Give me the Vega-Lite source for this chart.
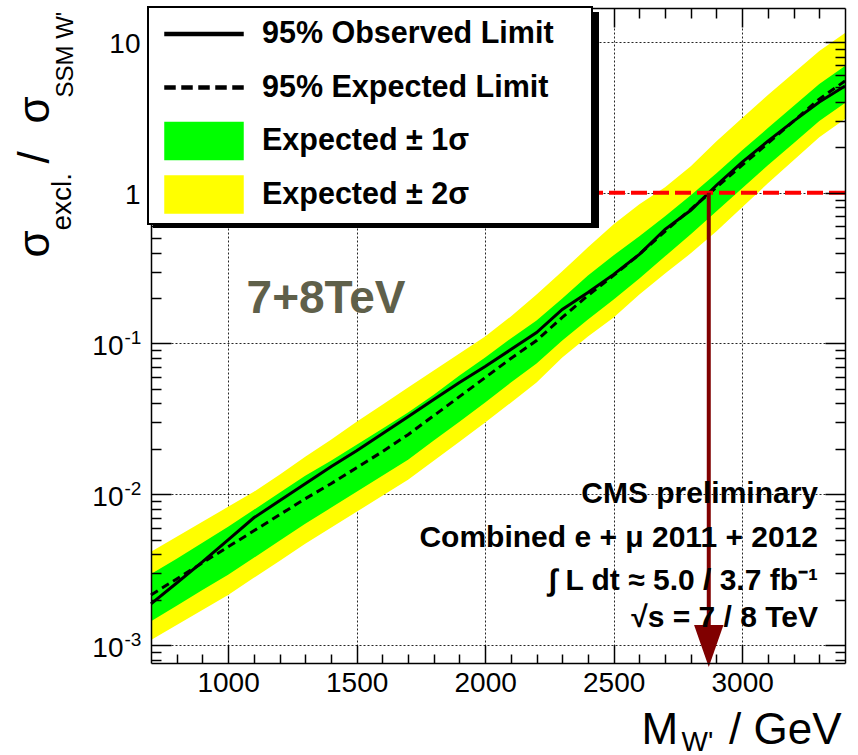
{
  "$schema": "https://vega.github.io/schema/vega-lite/v6.json",
  "width": 694,
  "height": 655,
  "autosize": {"type": "none"},
  "padding": {"left": 151, "top": 8, "right": 13, "bottom": 92},
  "background": "#ffffff",
  "config": {
    "view": {"stroke": null},
    "font": "Liberation Sans",
    "axis": {
      "labels": false, "ticks": false, "domain": false, "grid": false,
      "labelFont": "Liberation Sans", "labelFontSize": 28, "labelColor": "#000000",
      "labelFlush": false, "labelOverlap": false,
      "tickColor": "#000000", "tickWidth": 1.5,
      "domainColor": "#000000", "domainWidth": 1.5,
      "titleFont": "Liberation Sans", "titleFontWeight": "normal", "titleColor": "#000000",
      "gridColor": "#000000", "gridDash": [2, 2], "gridWidth": 1, "gridOpacity": 0.85
    }
  },
  "datasets": {
    "curves": [
      {"M": 700, "obs": 0.001873, "exp": 0.002148, "g_lo": 0.00144, "g_hi": 0.00296, "y_lo": 0.00108, "y_hi": 0.00415},
      {"M": 800, "obs": 0.00258, "exp": 0.002745, "g_lo": 0.00182, "g_hi": 0.00373, "y_lo": 0.00136, "y_hi": 0.00522},
      {"M": 900, "obs": 0.00356, "exp": 0.00351, "g_lo": 0.00232, "g_hi": 0.00476, "y_lo": 0.00171, "y_hi": 0.00657},
      {"M": 1000, "obs": 0.00499, "exp": 0.00448, "g_lo": 0.00292, "g_hi": 0.00608, "y_lo": 0.00215, "y_hi": 0.00826},
      {"M": 1100, "obs": 0.00698, "exp": 0.00572, "g_lo": 0.00379, "g_hi": 0.00789, "y_lo": 0.00279, "y_hi": 0.01039},
      {"M": 1200, "obs": 0.00905, "exp": 0.00731, "g_lo": 0.00491, "g_hi": 0.01023, "y_lo": 0.00361, "y_hi": 0.01348},
      {"M": 1300, "obs": 0.01174, "exp": 0.00934, "g_lo": 0.00637, "g_hi": 0.01327, "y_lo": 0.00469, "y_hi": 0.01775},
      {"M": 1400, "obs": 0.01523, "exp": 0.01174, "g_lo": 0.00813, "g_hi": 0.0167, "y_lo": 0.00599, "y_hi": 0.0230},
      {"M": 1500, "obs": 0.01945, "exp": 0.0150, "g_lo": 0.01039, "g_hi": 0.0213, "y_lo": 0.00765, "y_hi": 0.0303},
      {"M": 1600, "obs": 0.0252, "exp": 0.01916, "g_lo": 0.01327, "g_hi": 0.0272, "y_lo": 0.00977, "y_hi": 0.0393},
      {"M": 1700, "obs": 0.0327, "exp": 0.02485, "g_lo": 0.01695, "g_hi": 0.0348, "y_lo": 0.01248, "y_hi": 0.0510},
      {"M": 1800, "obs": 0.0425, "exp": 0.0332, "g_lo": 0.0227, "g_hi": 0.0458, "y_lo": 0.0167, "y_hi": 0.0662},
      {"M": 1900, "obs": 0.0551, "exp": 0.0444, "g_lo": 0.0303, "g_hi": 0.0613, "y_lo": 0.0223, "y_hi": 0.0858},
      {"M": 2000, "obs": 0.0703, "exp": 0.0594, "g_lo": 0.0406, "g_hi": 0.0807, "y_lo": 0.0299, "y_hi": 0.1113},
      {"M": 2100, "obs": 0.0912, "exp": 0.0795, "g_lo": 0.0551, "g_hi": 0.108, "y_lo": 0.0405, "y_hi": 0.1512},
      {"M": 2200, "obs": 0.1183, "exp": 0.1047, "g_lo": 0.0736, "g_hi": 0.1422, "y_lo": 0.0551, "y_hi": 0.2116},
      {"M": 2300, "obs": 0.1682, "exp": 0.1489, "g_lo": 0.1047, "g_hi": 0.1991, "y_lo": 0.0807, "y_hi": 0.301},
      {"M": 2400, "obs": 0.2182, "exp": 0.2084, "g_lo": 0.1444, "g_hi": 0.283, "y_lo": 0.1113, "y_hi": 0.4345},
      {"M": 2500, "obs": 0.2873, "exp": 0.283, "g_lo": 0.1959, "g_hi": 0.3843, "y_lo": 0.1489, "y_hi": 0.6175},
      {"M": 2600, "obs": 0.3902, "exp": 0.3902, "g_lo": 0.2703, "g_hi": 0.5141, "y_lo": 0.2116, "y_hi": 0.8387},
      {"M": 2700, "obs": 0.5722, "exp": 0.5549, "g_lo": 0.3785, "g_hi": 0.698, "y_lo": 0.2918, "y_hi": 1.088},
      {"M": 2800, "obs": 0.765, "exp": 0.7769, "g_lo": 0.530, "g_hi": 0.9625, "y_lo": 0.3963, "y_hi": 1.500},
      {"M": 2900, "obs": 1.121, "exp": 1.088, "g_lo": 0.7534, "g_hi": 1.348, "y_lo": 0.5548, "y_hi": 2.199},
      {"M": 3000, "obs": 1.595, "exp": 1.523, "g_lo": 1.071, "g_hi": 1.916, "y_lo": 0.8009, "y_hi": 3.126},
      {"M": 3100, "obs": 2.199, "exp": 2.132, "g_lo": 1.523, "g_hi": 2.683, "y_lo": 1.156, "y_hi": 4.445},
      {"M": 3200, "obs": 2.986, "exp": 2.986, "g_lo": 2.132, "g_hi": 3.757, "y_lo": 1.644, "y_hi": 6.224},
      {"M": 3300, "obs": 3.993, "exp": 4.181, "g_lo": 2.986, "g_hi": 5.26, "y_lo": 2.338, "y_hi": 8.716},
      {"M": 3400, "obs": 5.101, "exp": 5.507, "g_lo": 3.933, "g_hi": 6.928, "y_lo": 3.079, "y_hi": 11.48}
    ],
    "limits": [
      {"limit": 2870}
    ]
  },
  "resolve": {"axis": {"x": "independent", "y": "independent"}},
  "layer": [
    {
      "data": {"name": "curves"},
      "mark": {"type": "area"},
      "encoding": {
        "x": {
          "field": "M", "type": "quantitative",
          "scale": {"domain": [700, 3400], "nice": false, "zero": false},
          "axis": {"orient": "bottom", "grid": true, "values": [1000, 1500, 2000, 2500, 3000], "title": null, "zindex": 0}
        },
        "y": {
          "field": "y_lo", "type": "quantitative",
          "scale": {"type": "log", "domain": [0.00076, 16.8], "nice": false},
          "axis": {"orient": "left", "grid": true, "values": [0.001, 0.01, 0.1, 1, 10], "title": null, "zindex": 0}
        },
        "y2": {"field": "y_hi"},
        "color": {
          "datum": "Expected ± 2σ", "type": "nominal",
          "scale": {
            "domain": ["95% Observed Limit", "95% Expected Limit", "Expected ± 1σ", "Expected ± 2σ"],
            "range": ["#000000", "#000000", "#00ff00", "#ffff00"]
          },
          "legend": {
            "orient": "none", "legendX": -3, "legendY": -1, "direction": "vertical",
            "title": "MM", "titleOrient": "right", "titleAngle": 0, "titleOpacity": 0,
            "titleFontSize": 15, "titlePadding": 5.5,
            "fillColor": "#ffffff", "strokeColor": "#000000", "padding": 7.5, "rowPadding": 10.5,
            "symbolSize": 1369, "symbolOffset": 29, "labelOffset": 38.5,
            "labelFont": "Liberation Sans", "labelFontSize": 30.5, "labelFontWeight": "bold",
            "labelColor": "#000000", "labelLimit": 600,
            "zindex": 2,
            "encode": {
              "legend": {"update": {"strokeWidth": {"value": 2}}},
              "symbols": {
                "update": {
                  "shape": {"signal": "datum.value === '95% Observed Limit' ? 'M-2.108,-1M2.108,1M-2.108,-0.081H2.108V0.081H-2.108Z' : datum.value === '95% Expected Limit' ? 'M-2.108,-1M2.108,1M-2.108,-0.081H-1.568V0.081H-2.108ZM-1.189,-0.081H-0.649V0.081H-1.189ZM-0.27,-0.081H0.27V0.081H-0.27ZM0.649,-0.081H1.189V0.081H0.649ZM1.568,-0.081H2.108V0.081H1.568Z' : 'M-2.108,-1H2.108V1H-2.108Z'"},
                  "fill": {"signal": "datum.value === 'Expected ± 1σ' ? '#00ff00' : datum.value === 'Expected ± 2σ' ? '#ffff00' : '#000000'"},
                  "stroke": {"signal": "datum.value === 'Expected ± 1σ' || datum.value === 'Expected ± 2σ' ? '#000000' : 'transparent'"},
                  "strokeWidth": {"value": 1.5},
                  "strokeDash": {"value": []},
                  "size": {"value": 1369},
                  "opacity": {"value": 1},
                  "fillOpacity": {"value": 1},
                  "strokeOpacity": {"value": 1}
                }
              },
              "labels": {"update": {"fill": {"value": "#000000"}}}
            }
          }
        }
      }
    },
    {
      "data": {"name": "curves"},
      "mark": {"type": "area"},
      "encoding": {
        "x": {
          "field": "M", "type": "quantitative",
          "axis": {"orient": "bottom", "labels": true, "values": [1000, 1500, 2000, 2500, 3000], "format": "d", "labelPadding": 6, "title": null, "zindex": 1}
        },
        "y": {
          "field": "g_lo", "type": "quantitative",
          "axis": {
            "orient": "left", "labels": true, "values": [1, 10],
            "labelExpr": "datum.value > 5 ? '10' : '1'", "labelPadding": 11, "labelOffset": 3,
            "title": "/", "titleFontSize": 44, "titleAngle": -90, "titleAlign": "left", "titleBaseline": "alphabetic",
            "titleX": -103, "titleY": 155, "zindex": 1
          }
        },
        "y2": {"field": "g_hi"},
        "color": {"datum": "Expected ± 1σ", "type": "nominal"}
      }
    },
    {
      "data": {"name": "curves"},
      "mark": {"type": "line", "strokeWidth": 3, "strokeDash": [8, 5]},
      "encoding": {
        "x": {
          "field": "M", "type": "quantitative",
          "axis": {
            "orient": "bottom", "ticks": true, "domain": true, "tickSize": -18,
            "values": [1000, 1500, 2000, 2500, 3000],
            "title": "/ GeV", "titleFontSize": 44, "titleAlign": "right", "titleBaseline": "alphabetic",
            "titleX": 690, "titleY": 80, "zindex": 1
          }
        },
        "y": {
          "field": "exp", "type": "quantitative",
          "axis": {
            "orient": "left", "labels": true, "values": [0.001, 0.01, 0.1],
            "labelExpr": "'10'", "labelPadding": 28, "labelOffset": 3,
            "title": "σ", "titleFontSize": 44, "titleAngle": -90, "titleAlign": "left", "titleBaseline": "alphabetic",
            "titleX": -103, "titleY": 115, "zindex": 1
          }
        },
        "color": {"datum": "95% Expected Limit", "type": "nominal"}
      }
    },
    {
      "data": {"name": "curves"},
      "mark": {"type": "line", "strokeWidth": 3},
      "encoding": {
        "x": {
          "field": "M", "type": "quantitative",
          "axis": {
            "orient": "bottom", "ticks": true, "tickSize": -9,
            "values": [800, 900, 1100, 1200, 1300, 1400, 1600, 1700, 1800, 1900, 2100, 2200, 2300, 2400, 2600, 2700, 2800, 2900, 3100, 3200, 3300],
            "title": "M", "titleFontSize": 44, "titleAlign": "left", "titleBaseline": "alphabetic",
            "titleX": 490, "titleY": 80, "zindex": 1
          }
        },
        "y": {
          "field": "obs", "type": "quantitative",
          "axis": {
            "orient": "left", "labels": true, "values": [0.001, 0.01, 0.1],
            "labelExpr": "datum.value < 0.005 ? '-3' : datum.value < 0.05 ? '-2' : '-1'",
            "labelFontSize": 19, "labelAlign": "left", "labelPadding": 27, "labelOffset": -6,
            "title": "SSM W'", "titleFontSize": 24, "titleAngle": -90, "titleAlign": "left", "titleBaseline": "alphabetic",
            "titleX": -79, "titleY": 89, "zindex": 1
          }
        },
        "color": {"datum": "95% Observed Limit", "type": "nominal"}
      }
    },
    {
      "data": {"name": "limits"},
      "mark": {"type": "rule", "color": "#ff0000", "strokeWidth": 4, "strokeDash": [16, 6]},
      "encoding": {
        "y": {
          "datum": 1, "type": "quantitative",
          "axis": {
            "orient": "left", "ticks": true, "domain": true, "tickSize": -20,
            "values": [0.001, 0.01, 0.1, 1, 10],
            "title": "σ", "titleFontSize": 44, "titleAngle": -90, "titleAlign": "left", "titleBaseline": "alphabetic",
            "titleX": -103, "titleY": 249, "zindex": 1
          }
        }
      }
    },
    {
      "data": {"name": "limits"},
      "mark": {"type": "rule", "color": "#800000", "strokeWidth": 4},
      "encoding": {
        "x": {
          "field": "limit", "type": "quantitative",
          "axis": {
            "orient": "top", "ticks": true, "domain": true, "tickSize": -19,
            "values": [1000, 1500, 2000, 2500, 3000],
            "title": "W'", "titleFontSize": 28, "titleAlign": "left", "titleBaseline": "alphabetic",
            "titleX": 530, "titleY": 742, "zindex": 1
          }
        },
        "y": {
          "datum": 1, "type": "quantitative",
          "axis": {
            "orient": "left", "ticks": true, "tickSize": -10,
            "values": [0.0008, 0.0009, 0.002, 0.003, 0.004, 0.005, 0.006, 0.007, 0.008, 0.009, 0.02, 0.03, 0.04, 0.05, 0.06, 0.07, 0.08, 0.09, 0.2, 0.3, 0.4, 0.5, 0.6, 0.7, 0.8, 0.9, 2, 3, 4, 5, 6, 7, 8, 9],
            "title": "excl.", "titleFontSize": 28, "titleAngle": -90, "titleAlign": "left", "titleBaseline": "alphabetic",
            "titleX": -81, "titleY": 222, "zindex": 1
          }
        },
        "y2": {"datum": 0.000985}
      }
    },
    {
      "data": {"name": "limits"},
      "mark": {"type": "point", "filled": true, "color": "#800000", "opacity": 1, "size": 1764, "shape": "M-0.7,-1L0.7,-1L0,1Z"},
      "encoding": {
        "x": {
          "field": "limit", "type": "quantitative",
          "axis": {
            "orient": "top", "ticks": true, "tickSize": -10,
            "values": [800, 900, 1100, 1200, 1300, 1400, 1600, 1700, 1800, 1900, 2100, 2200, 2300, 2400, 2600, 2700, 2800, 2900, 3100, 3200, 3300],
            "title": null, "zindex": 1
          }
        },
        "y": {
          "datum": 0.000985, "type": "quantitative",
          "axis": {
            "orient": "right", "ticks": true, "domain": true, "tickSize": -20,
            "values": [0.001, 0.01, 0.1, 1, 10], "title": null, "zindex": 1
          }
        }
      }
    },
    {
      "data": {"name": "limits"},
      "mark": {"type": "text", "font": "Liberation Sans", "fontSize": 46, "fontWeight": "bold", "color": "#5f604a", "align": "center", "baseline": "alphabetic", "text": "7+8TeV", "strokeWidth": 0},
      "encoding": {
        "x": {"datum": 1381, "type": "quantitative", "axis": null},
        "y": {
          "datum": 0.159, "type": "quantitative",
          "axis": {
            "orient": "right", "ticks": true, "tickSize": -10,
            "values": [0.0008, 0.0009, 0.002, 0.003, 0.004, 0.005, 0.006, 0.007, 0.008, 0.009, 0.02, 0.03, 0.04, 0.05, 0.06, 0.07, 0.08, 0.09, 0.2, 0.3, 0.4, 0.5, 0.6, 0.7, 0.8, 0.9, 2, 3, 4, 5, 6, 7, 8, 9],
            "title": null, "zindex": 1
          }
        },
        "stroke": {
          "datum": 0.5, "type": "quantitative",
          "scale": {"domain": [0, 1], "range": ["#000000", "#000000"]},
          "legend": {
            "type": "gradient", "orient": "none", "legendX": 2, "legendY": 4, "direction": "vertical",
            "title": null, "padding": 0, "gradientLength": 216, "gradientThickness": 446,
            "gradientStrokeWidth": 0, "labelOpacity": 0, "labelFontSize": 1, "labelOffset": 0,
            "zindex": 1
          }
        }
      }
    },
    {
      "data": {"name": "limits"},
      "mark": {"type": "text", "font": "Liberation Sans", "fontSize": 30, "fontWeight": "bold", "color": "#000000", "align": "right", "baseline": "alphabetic", "lineHeight": 43.5,
        "text": ["CMS preliminary", "Combined e + μ 2011 + 2012", "∫ L dt ≈ 5.0 / 3.7 fb⁻¹"]},
      "encoding": {
        "x": {"datum": 3295, "type": "quantitative", "axis": null},
        "y": {"datum": 0.00875, "type": "quantitative", "axis": null}
      }
    },
    {
      "data": {"name": "limits"},
      "mark": {"type": "text", "font": "Liberation Sans", "fontSize": 30, "fontWeight": "bold", "color": "#000000", "align": "right", "baseline": "alphabetic", "text": "√s = 7 / 8 TeV"},
      "encoding": {
        "x": {"datum": 3295, "type": "quantitative", "axis": null},
        "y": {"datum": 0.001316, "type": "quantitative", "axis": null}
      }
    }
  ]
}
